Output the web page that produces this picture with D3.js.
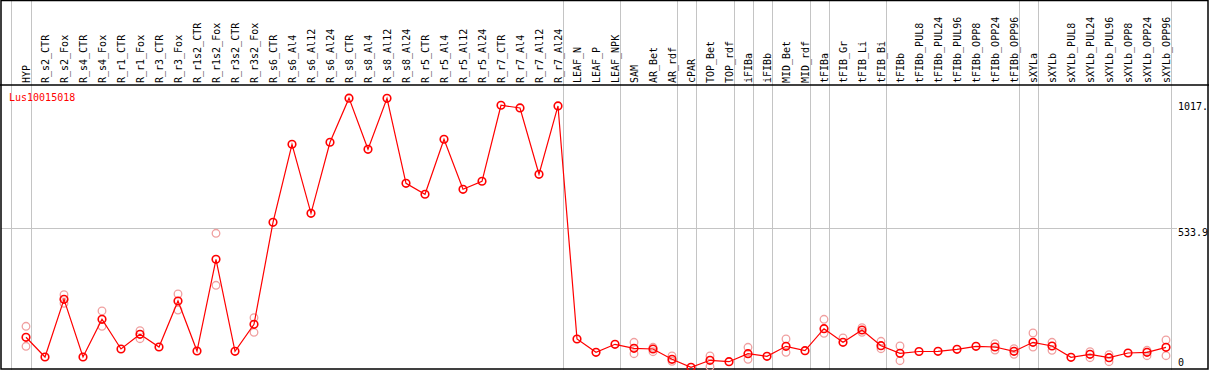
<!DOCTYPE html>
<html>
<head>
<meta charset="utf-8">
<script src="https://cdn.jsdelivr.net/npm/d3@7"></script>
<style>
  body { margin: 0; background: #fff; }
  svg { display: block; font-family: "DejaVu Sans Mono", monospace; }
  .catLabel { font-size: 10px; fill: #000; }
  .tickLabel { font-size: 10px; fill: #000; }
</style>
</head>
<body>
<div class="chart-div"></div>
<script>
// categories along the x axis
const categories = ["HYP", "R_s2_CTR", "R_s2_Fox", "R_s4_CTR", "R_s4_Fox", "R_r1_CTR", "R_r1_Fox",
  "R_r3_CTR", "R_r3_Fox", "R_r1s2_CTR", "R_r1s2_Fox", "R_r3s2_CTR", "R_r3s2_Fox",
  "R_s6_CTR", "R_s6_Al4", "R_s6_Al12", "R_s6_Al24", "R_s8_CTR", "R_s8_Al4", "R_s8_Al12", "R_s8_Al24",
  "R_r5_CTR", "R_r5_Al4", "R_r5_Al12", "R_r5_Al24", "R_r7_CTR", "R_r7_Al4", "R_r7_Al12", "R_r7_Al24",
  "LEAF_N", "LEAF_P", "LEAF_NPK", "SAM", "AR_Bet", "AR_rdf", "cPAR", "TOP_Bet", "TOP_rdf",
  "iFIBa", "iFIBb", "MID_Bet", "MID_rdf", "tFIBa", "tFIB_Gr", "tFIB_Li", "tFIB_Bi", "tFIBb",
  "tFIBb_PUL8", "tFIBb_PUL24", "tFIBb_PUL96", "tFIBb_OPP8", "tFIBb_OPP24", "tFIBb_OPP96",
  "sXYLa", "sXYLb", "sXYLb_PUL8", "sXYLb_PUL24", "sXYLb_PUL96", "sXYLb_OPP8", "sXYLb_OPP24", "sXYLb_OPP96"];

// number of categories in each group (gray separators between groups)
const groupSizes = [1, 28, 3, 3, 1, 2, 1, 1, 2, 1, 3, 7, 1, 7];

// mean expression values
const means = [124.7, 51.1, 266.5, 51.1, 191.9, 81, 135.9, 88.5, 260.2, 73.5, 415.8, 72.4, 173.2,
  553.9, 845.1, 587.5, 852.6, 1017.2, 826.4, 1016.5, 699.5,
  658.5, 863.8, 677.1, 707, 990.7, 980.6, 733.1, 988.1,
  118.3, 68.7, 98.5, 83.6, 81, 42.6, 12.7, 38.8, 33.6,
  63.5, 53.8, 91.1, 74.7, 156.8, 106, 151.9, 93.3, 64.9,
  71.7, 72.4, 79.9, 91.1, 88.5, 72.4,
  106, 92.2, 50, 61.2, 48.5, 66.1, 68.7, 87.3];

// individual replicate values (faint circles)
const replicates = [[165.7, 91.1], [], [283.7, 251.6], [], [222.9, 165.7], [], [149.3, 119.4], [], [286.3, 226.6], [],
  [512.9, 318.8], [], [197.8, 143.3],
  [], [], [], [], [], [], [], [], [], [], [], [], [], [], [], [],
  [], [], [], [106, 63.5], [87.3, 70.9], [54.9, 35.1], [], [54.9, 14.9], [],
  [87.3, 42.6], [], [118.3, 68.7], [], [191.9, 139.6], [122.1], [160.5, 143.3], [109.7, 82.1], [92.2, 37.3],
  [], [], [], [], [100.8, 77.3], [82.1, 61.2],
  [140.7, 88.5], [106, 76.1], [], [70.9, 48.5], [59.7, 33.6], [], [76.1, 56], [114.6, 56]];

const geneName = "Lus10015018";
const yMax = 1067.8;
const tickValues = [0, 533.9, 1017.2];
const tickTexts = ["0", "533.9", "1017."];

const width = 1209, height = 370;
const headerH = 85;

const svg = d3.select(".chart-div").append("svg")
  .attr("width", width)
  .attr("height", height);

const x = d3.scalePoint()
  .domain(categories)
  .range([26, 26 + 19 * (categories.length - 1)]);

const y = d3.scaleLinear()
  .domain([0, yMax])
  .range([370.7, 84.6]);

// horizontal grid line at the middle value
svg.append("line")
  .attr("x1", 1).attr("x2", 1177)
  .attr("y1", Math.round(y(tickValues[1])) + 0.5)
  .attr("y2", Math.round(y(tickValues[1])) + 0.5)
  .attr("stroke", "#c4c4c4");

// group separators
let sepX = [x(categories[0]) - 15.5];
let idx = -1;
groupSizes.forEach(n => {
  idx += n;
  sepX.push(x(categories[idx]) + 4.5);
});
svg.selectAll("line.sep")
  .data(sepX)
  .enter()
  .append("line")
  .attr("class", "sep")
  .attr("x1", d => Math.round(d) + 0.5).attr("x2", d => Math.round(d) + 0.5)
  .attr("y1", 0).attr("y2", height)
  .attr("stroke", "#c4c4c4");

// frame and header line
svg.append("rect")
  .attr("x", 1).attr("y", 0.5)
  .attr("width", 1207).attr("height", 368.5)
  .attr("fill", "none")
  .attr("stroke", "#000")
  .attr("stroke-width", 1.5);
svg.append("line")
  .attr("x1", 0).attr("x2", width)
  .attr("y1", headerH).attr("y2", headerH)
  .attr("stroke", "#000")
  .attr("stroke-width", 1.5);

// category labels, rotated
svg.selectAll("text.catLabel")
  .data(categories)
  .enter()
  .append("text")
  .attr("class", "catLabel")
  .attr("transform", d => `translate(${x(d) + 3.5}, ${headerH - 2}) rotate(-90)`)
  .text(d => d);

// y tick labels on the right
const tickDy = [-4.5, 8, 12];
svg.selectAll("text.tickLabel")
  .data(tickValues)
  .enter()
  .append("text")
  .attr("class", "tickLabel")
  .attr("x", 1178)
  .attr("y", (d, i) => y(d) + tickDy[i])
  .text((d, i) => tickTexts[i]);

// gene name
svg.append("text")
  .attr("x", 9)
  .attr("y", 101)
  .style("font-size", "10px")
  .style("fill", "#ff0000")
  .text(geneName);

// replicate points
const repData = [];
replicates.forEach((arr, i) => arr.forEach(v => repData.push({ cat: categories[i], value: v })));
svg.selectAll("circle.rep")
  .data(repData)
  .enter()
  .append("circle")
  .attr("class", "rep")
  .attr("cx", d => x(d.cat))
  .attr("cy", d => y(d.value))
  .attr("r", 3.8)
  .attr("fill", "none")
  .attr("stroke", "#f0a0a0")
  .attr("stroke-width", 1.3);

// mean line
const line = d3.line()
  .x((d, i) => x(categories[i]))
  .y(d => y(d));
svg.append("path")
  .datum(means)
  .attr("d", line)
  .attr("fill", "none")
  .attr("stroke", "#ff0000")
  .attr("stroke-width", 1.2);

svg.selectAll("circle.mean")
  .data(means)
  .enter()
  .append("circle")
  .attr("class", "mean")
  .attr("cx", (d, i) => x(categories[i]))
  .attr("cy", d => y(d))
  .attr("r", 3.8)
  .attr("fill", "none")
  .attr("stroke", "#ff0000")
  .attr("stroke-width", 1.6);
</script>
</body>
</html>
